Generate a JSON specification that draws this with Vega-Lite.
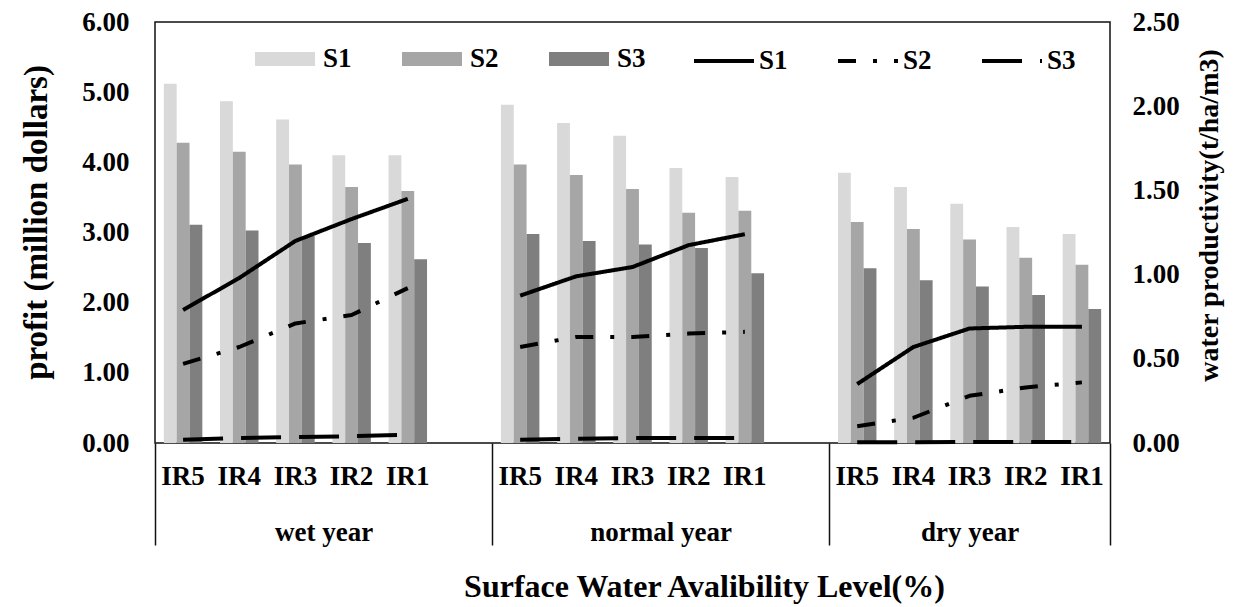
{
  "$schema": "https://vega.github.io/schema/vega-lite/v6.json",
  "autosize": "none",
  "width": 955,
  "height": 421,
  "padding": {"left": 155, "top": 22, "right": 130, "bottom": 164},
  "background": "white",
  "config": {
    "font": "Liberation Serif",
    "view": {"stroke": "#111", "strokeWidth": 1.5},
    "axis": {"labelFont": "Liberation Serif", "labelFontWeight": "bold", "labelColor": "black", "titleFont": "Liberation Serif", "titleFontWeight": "bold", "titleColor": "black", "grid": false, "domain": false},
    "legend": {"labelFont": "Liberation Serif", "labelFontWeight": "bold", "labelColor": "black", "labelFontSize": 27, "padding": 0}
  },
  "datasets": {
    "profit": [
      {"case": "wet year IR5", "year": "wet year", "scenario": "S1", "profit": 5.12},
      {"case": "wet year IR5", "year": "wet year", "scenario": "S2", "profit": 4.28},
      {"case": "wet year IR5", "year": "wet year", "scenario": "S3", "profit": 3.11},
      {"case": "wet year IR4", "year": "wet year", "scenario": "S1", "profit": 4.87},
      {"case": "wet year IR4", "year": "wet year", "scenario": "S2", "profit": 4.15},
      {"case": "wet year IR4", "year": "wet year", "scenario": "S3", "profit": 3.03},
      {"case": "wet year IR3", "year": "wet year", "scenario": "S1", "profit": 4.61},
      {"case": "wet year IR3", "year": "wet year", "scenario": "S2", "profit": 3.97},
      {"case": "wet year IR3", "year": "wet year", "scenario": "S3", "profit": 2.95},
      {"case": "wet year IR2", "year": "wet year", "scenario": "S1", "profit": 4.10},
      {"case": "wet year IR2", "year": "wet year", "scenario": "S2", "profit": 3.65},
      {"case": "wet year IR2", "year": "wet year", "scenario": "S3", "profit": 2.85},
      {"case": "wet year IR1", "year": "wet year", "scenario": "S1", "profit": 4.10},
      {"case": "wet year IR1", "year": "wet year", "scenario": "S2", "profit": 3.59},
      {"case": "wet year IR1", "year": "wet year", "scenario": "S3", "profit": 2.62},
      {"case": "normal year IR5", "year": "normal year", "scenario": "S1", "profit": 4.82},
      {"case": "normal year IR5", "year": "normal year", "scenario": "S2", "profit": 3.97},
      {"case": "normal year IR5", "year": "normal year", "scenario": "S3", "profit": 2.98},
      {"case": "normal year IR4", "year": "normal year", "scenario": "S1", "profit": 4.56},
      {"case": "normal year IR4", "year": "normal year", "scenario": "S2", "profit": 3.82},
      {"case": "normal year IR4", "year": "normal year", "scenario": "S3", "profit": 2.88},
      {"case": "normal year IR3", "year": "normal year", "scenario": "S1", "profit": 4.38},
      {"case": "normal year IR3", "year": "normal year", "scenario": "S2", "profit": 3.62},
      {"case": "normal year IR3", "year": "normal year", "scenario": "S3", "profit": 2.83},
      {"case": "normal year IR2", "year": "normal year", "scenario": "S1", "profit": 3.92},
      {"case": "normal year IR2", "year": "normal year", "scenario": "S2", "profit": 3.28},
      {"case": "normal year IR2", "year": "normal year", "scenario": "S3", "profit": 2.78},
      {"case": "normal year IR1", "year": "normal year", "scenario": "S1", "profit": 3.79},
      {"case": "normal year IR1", "year": "normal year", "scenario": "S2", "profit": 3.31},
      {"case": "normal year IR1", "year": "normal year", "scenario": "S3", "profit": 2.42},
      {"case": "dry year IR5", "year": "dry year", "scenario": "S1", "profit": 3.85},
      {"case": "dry year IR5", "year": "dry year", "scenario": "S2", "profit": 3.15},
      {"case": "dry year IR5", "year": "dry year", "scenario": "S3", "profit": 2.49},
      {"case": "dry year IR4", "year": "dry year", "scenario": "S1", "profit": 3.65},
      {"case": "dry year IR4", "year": "dry year", "scenario": "S2", "profit": 3.05},
      {"case": "dry year IR4", "year": "dry year", "scenario": "S3", "profit": 2.32},
      {"case": "dry year IR3", "year": "dry year", "scenario": "S1", "profit": 3.41},
      {"case": "dry year IR3", "year": "dry year", "scenario": "S2", "profit": 2.90},
      {"case": "dry year IR3", "year": "dry year", "scenario": "S3", "profit": 2.23},
      {"case": "dry year IR2", "year": "dry year", "scenario": "S1", "profit": 3.08},
      {"case": "dry year IR2", "year": "dry year", "scenario": "S2", "profit": 2.64},
      {"case": "dry year IR2", "year": "dry year", "scenario": "S3", "profit": 2.11},
      {"case": "dry year IR1", "year": "dry year", "scenario": "S1", "profit": 2.98},
      {"case": "dry year IR1", "year": "dry year", "scenario": "S2", "profit": 2.54},
      {"case": "dry year IR1", "year": "dry year", "scenario": "S3", "profit": 1.91}
    ],
    "productivity": [
      {"case": "wet year IR5", "year": "wet year", "scenario": "S1", "wp": 0.79},
      {"case": "wet year IR4", "year": "wet year", "scenario": "S1", "wp": 0.98},
      {"case": "wet year IR3", "year": "wet year", "scenario": "S1", "wp": 1.20},
      {"case": "wet year IR2", "year": "wet year", "scenario": "S1", "wp": 1.33},
      {"case": "wet year IR1", "year": "wet year", "scenario": "S1", "wp": 1.45},
      {"case": "normal year IR5", "year": "normal year", "scenario": "S1", "wp": 0.875},
      {"case": "normal year IR4", "year": "normal year", "scenario": "S1", "wp": 0.99},
      {"case": "normal year IR3", "year": "normal year", "scenario": "S1", "wp": 1.045},
      {"case": "normal year IR2", "year": "normal year", "scenario": "S1", "wp": 1.175},
      {"case": "normal year IR1", "year": "normal year", "scenario": "S1", "wp": 1.24},
      {"case": "dry year IR5", "year": "dry year", "scenario": "S1", "wp": 0.35},
      {"case": "dry year IR4", "year": "dry year", "scenario": "S1", "wp": 0.57},
      {"case": "dry year IR3", "year": "dry year", "scenario": "S1", "wp": 0.68},
      {"case": "dry year IR2", "year": "dry year", "scenario": "S1", "wp": 0.69},
      {"case": "dry year IR1", "year": "dry year", "scenario": "S1", "wp": 0.69},
      {"case": "wet year IR5", "year": "wet year", "scenario": "S2", "wp": 0.47},
      {"case": "wet year IR4", "year": "wet year", "scenario": "S2", "wp": 0.57},
      {"case": "wet year IR3", "year": "wet year", "scenario": "S2", "wp": 0.71},
      {"case": "wet year IR2", "year": "wet year", "scenario": "S2", "wp": 0.76},
      {"case": "wet year IR1", "year": "wet year", "scenario": "S2", "wp": 0.92},
      {"case": "normal year IR5", "year": "normal year", "scenario": "S2", "wp": 0.57},
      {"case": "normal year IR4", "year": "normal year", "scenario": "S2", "wp": 0.63},
      {"case": "normal year IR3", "year": "normal year", "scenario": "S2", "wp": 0.63},
      {"case": "normal year IR2", "year": "normal year", "scenario": "S2", "wp": 0.65},
      {"case": "normal year IR1", "year": "normal year", "scenario": "S2", "wp": 0.66},
      {"case": "dry year IR5", "year": "dry year", "scenario": "S2", "wp": 0.10},
      {"case": "dry year IR4", "year": "dry year", "scenario": "S2", "wp": 0.15},
      {"case": "dry year IR3", "year": "dry year", "scenario": "S2", "wp": 0.28},
      {"case": "dry year IR2", "year": "dry year", "scenario": "S2", "wp": 0.33},
      {"case": "dry year IR1", "year": "dry year", "scenario": "S2", "wp": 0.36},
      {"case": "wet year IR5", "year": "wet year", "scenario": "S3", "wp": 0.02},
      {"case": "wet year IR4", "year": "wet year", "scenario": "S3", "wp": 0.03},
      {"case": "wet year IR3", "year": "wet year", "scenario": "S3", "wp": 0.035},
      {"case": "wet year IR2", "year": "wet year", "scenario": "S3", "wp": 0.04},
      {"case": "wet year IR1", "year": "wet year", "scenario": "S3", "wp": 0.05},
      {"case": "normal year IR5", "year": "normal year", "scenario": "S3", "wp": 0.02},
      {"case": "normal year IR4", "year": "normal year", "scenario": "S3", "wp": 0.025},
      {"case": "normal year IR3", "year": "normal year", "scenario": "S3", "wp": 0.03},
      {"case": "normal year IR2", "year": "normal year", "scenario": "S3", "wp": 0.03},
      {"case": "normal year IR1", "year": "normal year", "scenario": "S3", "wp": 0.03},
      {"case": "dry year IR5", "year": "dry year", "scenario": "S3", "wp": 0.005},
      {"case": "dry year IR4", "year": "dry year", "scenario": "S3", "wp": 0.005},
      {"case": "dry year IR3", "year": "dry year", "scenario": "S3", "wp": 0.006},
      {"case": "dry year IR2", "year": "dry year", "scenario": "S3", "wp": 0.006},
      {"case": "dry year IR1", "year": "dry year", "scenario": "S3", "wp": 0.006}
    ]
  },
  "layer": [
    {
      "data": {"name": "profit"},
      "mark": {"type": "bar"},
      "encoding": {
        "x": {
          "field": "case", "type": "nominal",
          "scale": {"domain": ["wet year IR5", "wet year IR4", "wet year IR3", "wet year IR2", "wet year IR1", " ", "normal year IR5", "normal year IR4", "normal year IR3", "normal year IR2", "normal year IR1", "  ", "dry year IR5", "dry year IR4", "dry year IR3", "dry year IR2", "dry year IR1"], "paddingInner": 0, "paddingOuter": 0},
          "axis": {"orient": "bottom", "title": null, "ticks": false, "domain": false, "labelAngle": 0, "labelFontSize": 27, "labelPadding": 20, "labelOverlap": false, "labelExpr": "split(datum.value, ' ')[2] || ''"}
        },
        "xOffset": {"field": "scenario", "type": "nominal", "scale": {"domain": ["S1", "S2", "S3"], "paddingInner": 0, "paddingOuter": 0.69}},
        "y": {
          "field": "profit", "type": "quantitative",
          "scale": {"domain": [0, 6], "nice": false},
          "axis": {"title": "profit (million dollars)", "values": [0, 1, 2, 3, 4, 5, 6], "format": ".2f", "ticks": false, "labelFontSize": 27, "labelPadding": 26, "titleFontSize": 33, "titlePadding": 28, "titleY": 200}
        },
        "fill": {
          "field": "scenario", "type": "nominal",
          "scale": {"range": ["#d9d9d9", "#a6a6a6", "#7f7f7f"]},
          "legend": {"title": null, "orient": "none", "legendX": 100, "legendY": 7, "direction": "horizontal", "symbolType": "M-1,-0.233H1V0.233H-1Z", "symbolSize": 3600, "symbolStrokeWidth": 0, "labelOffset": 8, "columnPadding": 50}
        }
      }
    },
    {
      "data": {"name": "productivity"},
      "mark": {"type": "line", "color": "black", "strokeWidth": 4, "strokeCap": "butt", "strokeJoin": "round"},
      "encoding": {
        "x": {
          "field": "case", "type": "nominal",
          "scale": {"domain": ["wet year IR5", "wet year IR4", "wet year IR3", "wet year IR2", "wet year IR1", " ", "normal year IR5", "normal year IR4", "normal year IR3", "normal year IR2", "normal year IR1", "  ", "dry year IR5", "dry year IR4", "dry year IR3", "dry year IR2", "dry year IR1"], "paddingInner": 0, "paddingOuter": 0},
          "axis": {
            "orient": "bottom",
            "title": "Surface Water Avalibility Level(%)", "titleFontSize": 32, "titleX": 549, "titleY": 153, "titleBaseline": "alphabetic", "titleAlign": "center", "titleAnchor": null,
            "domain": false, "ticks": true, "tickBand": "extent", "tickSize": 102, "tickWidth": 1.5,
            "tickColor": {"condition": {"test": "!isString(datum.value) || datum.value == ' ' || datum.value == '  ' || datum.value == 'dry year IR1'", "value": "#111"}, "value": "rgba(0,0,0,0)"},
            "labelAngle": 0, "labelFontSize": 27, "labelPadding": -26, "labelOverlap": false,
            "labelOffset": {"condition": {"test": "datum.value == 'dry year IR3'", "value": 0}, "value": 28.09},
            "labelExpr": "datum.value == 'wet year IR3' ? 'wet year' : datum.value == 'normal year IR3' ? 'normal year' : datum.value == 'dry year IR3' ? 'dry year' : ''"
          }
        },
        "y": {
          "field": "wp", "type": "quantitative",
          "scale": {"domain": [0, 2.5], "nice": false},
          "axis": {"orient": "right", "title": "water productivity(t/ha/m3)", "values": [0, 0.5, 1, 1.5, 2, 2.5], "format": ".2f", "ticks": false, "labelFontSize": 27, "labelPadding": 22, "titleFontSize": 28, "titleAngle": 270, "titleBaseline": "top", "titlePadding": 16, "titleY": 193}
        },
        "strokeDash": {
          "field": "scenario", "type": "nominal",
          "scale": {"domain": ["S1", "S2", "S3"], "range": [[1, 0], [18, 17, 4, 17], [40, 18]]},
          "legend": {"title": null, "orient": "none", "legendX": 537, "legendY": 7, "direction": "horizontal", "symbolType": "stroke", "symbolSize": 3600, "symbolStrokeWidth": 4, "symbolStrokeColor": "black", "labelOffset": 3, "columnPadding": 42}
        },
        "detail": {"field": "year", "type": "nominal"},
        "order": {"value": null}
      }
    }
  ],
  "resolve": {"scale": {"y": "independent"}, "axis": {"x": "independent"}}
}
